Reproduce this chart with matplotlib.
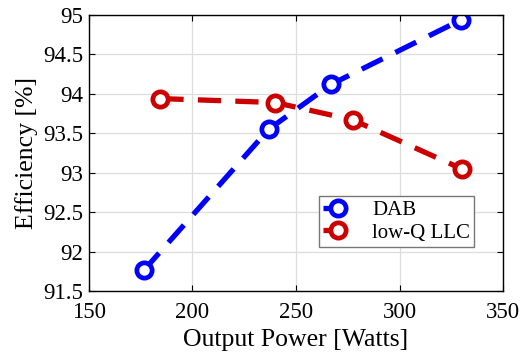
import matplotlib
matplotlib.use('Agg')
import matplotlib.pyplot as plt

# ─── DATA ───
dab_power = [176.4, 236.8, 266.9, 329.9]
dab_eff   = [91.76, 93.55, 94.12, 94.94]
llc_power = [184.5, 240.0, 277.4, 330.0]
llc_eff   = [93.94, 93.89, 93.67, 93.05]
x_ticks = [150, 200, 250, 300, 350]
y_ticks = [91.5, 92, 92.5, 93, 93.5, 94, 94.5, 95]
y_tick_labels = ['91.5', '92', '92.5', '93', '93.5', '94', '94.5', '95']

plt.rcParams['font.family'] = ['Liberation Serif', 'DejaVu Serif']

fig = plt.figure(figsize=(5.22, 3.61), dpi=100)
ax = fig.add_axes([89 / 522, 1 - 291 / 361, 414 / 522, 276 / 361])

style = dict(lw=3.8, marker='o', ms=11, mew=3.4, mfc='white', dashes=(4.4, 2.7))
ax.plot(dab_power, dab_eff, color='#0000FF', label='DAB', **style)
ax.plot(llc_power, llc_eff, color='#CC0000', label='low-Q LLC', **style)

ax.set_xlim(150, 350)
ax.set_ylim(91.5, 95)
ax.set_xticks(x_ticks)
ax.set_yticks(y_ticks)
ax.set_yticklabels(y_tick_labels)
ax.tick_params(direction='in', top=True, right=True, labelsize=16.5, length=4, width=0.8)
ax.tick_params(axis='x', pad=8)
ax.tick_params(axis='y', pad=4)
ax.grid(True, color='#DDDDDD', lw=0.9)
ax.set_axisbelow(True)
for sp in ax.spines.values():
    sp.set_linewidth(1.0)

ax.set_xlabel('Output Power [Watts]', fontsize=18.5, labelpad=4)
ax.set_ylabel('Efficiency [%]', fontsize=18.5, labelpad=4)

leg = ax.legend(loc='lower right', bbox_to_anchor=(0.93, 0.16), fontsize=15,
                fancybox=False, framealpha=1, edgecolor='#777777',
                handlelength=1.45, handletextpad=0.9, borderpad=0.2, labelspacing=0.15,
                borderaxespad=0)
leg.get_frame().set_linewidth(1.0)

fig.savefig('out.png', dpi=100)
